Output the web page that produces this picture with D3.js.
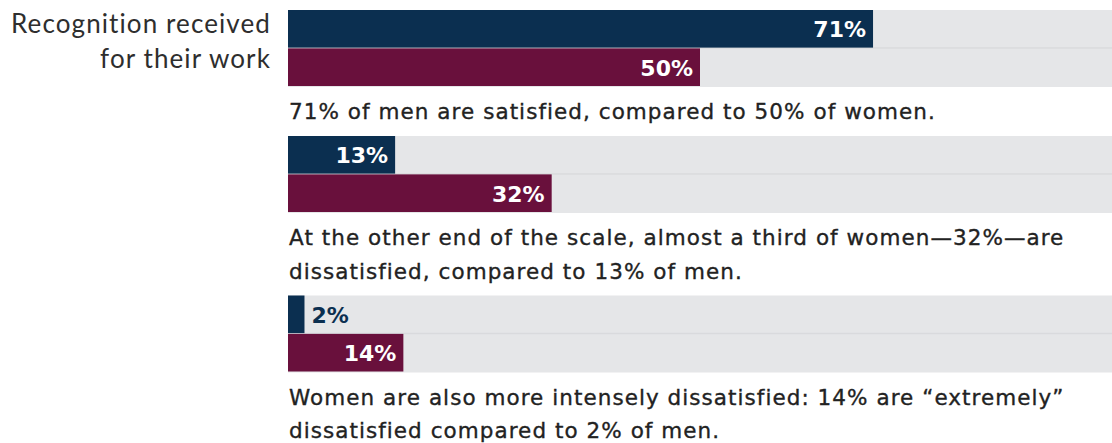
<!DOCTYPE html>
<html>
<head>
<meta charset="utf-8">
<script src="https://cdn.jsdelivr.net/npm/d3@7"></script>
<style>
  html, body { margin: 0; padding: 0; background: #ffffff; }
  svg { display: block; }
</style>
</head>
<body>
<div id="chart"></div>
<script>
// ---- data ----
const rowLabel = ["Recognition received", "for their work"];
const categories = ["Satisfied", "Dissatisfied", "Extremely dissatisfied"];
const seriesNames = ["Men", "Women"];
const menValues = [71, 13, 2];
const womenValues = [50, 32, 14];
const notes = [
  ["71% of men are satisfied, compared to 50% of women."],
  ["At the other end of the scale, almost a third of women\u201432%\u2014are",
   "dissatisfied, compared to 13% of men."],
  ["Women are also more intensely dissatisfied: 14% are \u201cextremely\u201d",
   "dissatisfied compared to 2% of men."]
];
const domainMax = 100;

// ---- layout ----
const W = 1112, H = 443;
const colors = { Men: "#0b2f50", Women: "#69103c" };
const track = "#e5e6e8";
const sep = "#d9dadd";
const textFont = "'DejaVu Sans', sans-serif";

const svg = d3.select("#chart").append("svg").attr("width", W).attr("height", H);

const x = d3.scaleLinear().domain([0, domainMax]).range([288, 1112]);
const groupH = 76;
const y = d3.scaleBand().domain(seriesNames).range([0, groupH]).paddingInner(0.02);

const lineH = 33.5;
const noteGap = 33;
let cursorY = 10;
const groupTops = [];
notes.forEach((n) => {
  groupTops.push(cursorY);
  cursorY += groupH + noteGap + (n.length - 1) * lineH + 17;
});

// row label
svg.append("g").selectAll("text").data(rowLabel).join("text")
  .attr("x", 271).attr("y", (d, i) => 33 + i * 35)
  .attr("text-anchor", "end")
  .attr("font-family", "Lato, sans-serif")
  .attr("font-size", 26)
  .attr("letter-spacing", 1.1)
  .style("font-variant-ligatures", "none")
  .attr("fill", "#2e2e2e")
  .text(d => d);

categories.forEach((cat, gi) => {
  const g = svg.append("g").attr("transform", `translate(0,${groupTops[gi]})`);
  const vals = [{ s: "Men", v: menValues[gi] }, { s: "Women", v: womenValues[gi] }];

  // track
  g.selectAll("rect.track").data(vals).join("rect").attr("class", "track")
    .attr("x", x(0)).attr("width", x(domainMax) - x(0))
    .attr("y", d => y(d.s)).attr("height", y.bandwidth() + 1)
    .attr("fill", track);
  g.append("line").attr("x1", x(0)).attr("x2", x(domainMax))
    .attr("y1", y("Women") - 0.5).attr("y2", y("Women") - 0.5)
    .attr("stroke", sep).attr("stroke-width", 1.5);

  g.selectAll("rect.bar").data(vals).join("rect").attr("class", "bar")
    .attr("x", x(0)).attr("width", d => x(d.v) - x(0))
    .attr("y", d => y(d.s)).attr("height", y.bandwidth())
    .attr("fill", d => colors[d.s]);

  g.selectAll("text.val").data(vals).join("text").attr("class", "val")
    .each(function (d) {
      const inside = d.v >= 8;
      d3.select(this)
        .attr("x", inside ? x(d.v) - 7 : x(d.v) + 7)
        .attr("text-anchor", inside ? "end" : "start")
        .attr("fill", inside ? "#ffffff" : colors[d.s]);
    })
    .attr("y", d => y(d.s) + y.bandwidth() / 2 + 8.5)
    .attr("font-family", textFont)
    .attr("font-weight", "bold")
    .attr("font-size", 22)
    .text(d => d.v + "%");

  g.selectAll("text.note").data(notes[gi]).join("text").attr("class", "note")
    .attr("x", 289)
    .attr("y", (d, i) => groupH + noteGap + i * lineH)
    .attr("font-family", textFont)
    .attr("font-size", 21.5)
    .attr("letter-spacing", 1.05)
    .attr("fill", "#222222")
    .attr("stroke", "#222222")
    .attr("stroke-width", 0.35)
    .text(d => d);
});
</script>
</body>
</html>
